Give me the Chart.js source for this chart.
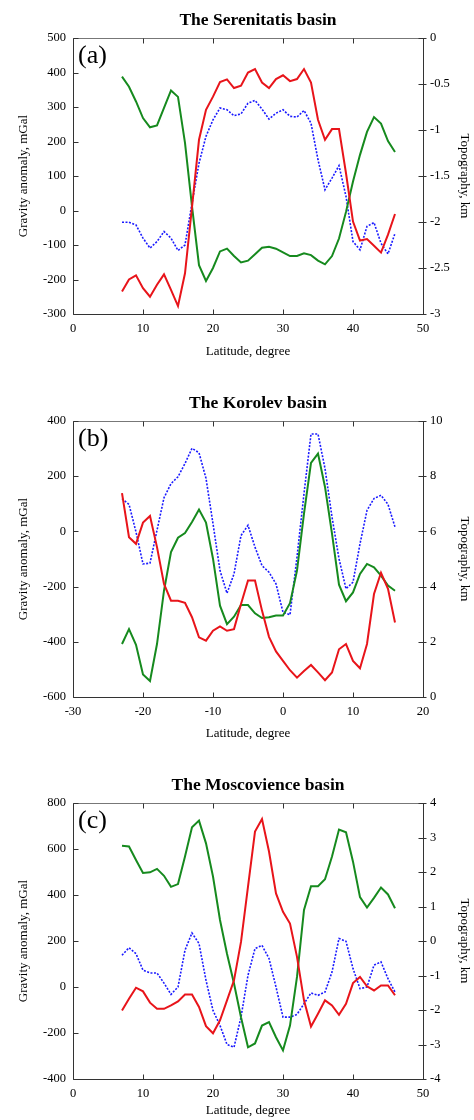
<!DOCTYPE html>
<html><head><meta charset="utf-8">
<script src="https://cdn.jsdelivr.net/npm/chart.js@4.4.0/dist/chart.umd.min.js"></script>
<style>
html,body{margin:0;padding:0;background:#fff;overflow:hidden;width:474px;height:1120px;}
.box{position:absolute;left:0;width:474px;height:382px;}
</style></head><body>
<div class="box" style="top:0px"><canvas id="c1"></canvas></div>
<div class="box" style="top:383px"><canvas id="c2"></canvas></div>
<div class="box" style="top:765px"><canvas id="c3"></canvas></div>
<script>
// ---------- Panel (a): Serenitatis ----------
const latA = [7,8,9,10,11,12,13,14,15,16,17,18,19,20,21,22,23,24,25,26,27,28,29,30,31,32,33,34,35,36,37,38,39,40,41,42,43,44,45,46];
const redA = [-235,-200,-188,-225,-250,-215,-185,-230,-277,-182,10,205,292,330,372,380,355,362,400,410,371,355,381,392,375,381,410,371,263,205,236,236,108,-32,-87,-83,-102,-122,-70,-10];
const blueA = [-34,-34,-42,-80,-109,-90,-61,-80,-116,-100,21,137,215,263,297,292,275,280,311,319,294,265,282,292,273,271,290,253,147,60,94,130,41,-90,-114,-46,-35,-95,-126,-66];
const greenA = [-0.42,-0.53,-0.69,-0.87,-0.97,-0.95,-0.76,-0.57,-0.64,-1.14,-1.83,-2.47,-2.64,-2.50,-2.32,-2.29,-2.37,-2.44,-2.42,-2.35,-2.28,-2.27,-2.29,-2.33,-2.37,-2.37,-2.34,-2.36,-2.42,-2.46,-2.37,-2.18,-1.89,-1.56,-1.27,-1.02,-0.86,-0.93,-1.12,-1.24];

// ---------- Panel (b): Korolev ----------
const latB = [-23,-22,-21,-20,-19,-18,-17,-16,-15,-14,-13,-12,-11,-10,-9,-8,-7,-6,-5,-4,-3,-2,-1,0,1,2,3,4,5,6,7,8,9,10,11,12,13,14,15,16];
const redB = [139,-21,-45,32,56,-57,-190,-251,-251,-259,-311,-384,-396,-360,-344,-360,-354,-263,-178,-178,-287,-382,-435,-469,-503,-530,-506,-484,-511,-539,-511,-427,-408,-469,-496,-408,-227,-150,-208,-330];
const blueB = [119,98,-2,-118,-115,4,122,173,198,246,301,285,192,28,-142,-224,-154,-15,22,-57,-124,-148,-190,-293,-302,-93,137,353,353,228,52,-99,-208,-184,-45,76,119,131,98,16];
const greenB = [1.92,2.46,1.89,0.82,0.58,1.92,3.85,5.25,5.77,5.94,6.34,6.79,6.32,5.01,3.31,2.64,2.91,3.33,3.33,3.03,2.86,2.89,2.95,2.95,3.40,4.58,6.64,8.48,8.82,7.61,5.92,4.07,3.47,3.79,4.46,4.82,4.70,4.40,4.04,3.85];

// ---------- Panel (c): Moscoviense ----------
const latC = [7,8,9,10,11,12,13,14,15,16,17,18,19,20,21,22,23,24,25,26,27,28,29,30,31,32,33,34,35,36,37,38,39,40,41,42,43,44,45,46];
const redC = [-102,-51,-3,-19,-68,-95,-95,-80,-63,-33,-33,-87,-170,-201,-145,-58,29,196,436,676,730,589,407,327,276,131,-58,-172,-116,-58,-80,-121,-73,17,44,3,-15,7,7,-36];
const blueC = [138,171,145,73,61,61,17,-32,0,160,235,189,29,-102,-167,-250,-262,-131,51,167,181,124,0,-131,-131,-119,-73,-26,-36,-22,65,211,199,80,-7,0,95,109,36,-22];
const greenC = [2.76,2.74,2.35,1.97,1.99,2.09,1.89,1.57,1.65,2.45,3.30,3.49,2.83,1.87,0.61,-0.37,-1.23,-2.21,-3.08,-2.97,-2.45,-2.35,-2.79,-3.17,-2.45,-1.04,0.90,1.59,1.59,1.79,2.45,3.23,3.15,2.30,1.27,0.97,1.25,1.55,1.35,0.95];

const titles = ['The Serenitatis basin','The Korolev basin','The Moscovience basin'];
const panelLabels = ['(a)','(b)','(c)'];
const xTitle = 'Latitude, degree';
const yLeftTitle = 'Gravity anomaly, mGal';
const yRightTitle = 'Topography, km';

const SERIF = '"Liberation Serif", "Times New Roman", serif';
const RED = '#e8141a', BLUE = '#1a1aff', GREEN = '#168a1e';

const frameTicks = {
  id: 'frameTicks',
  afterDraw(chart, args, opts) {
    const {ctx, chartArea: a, scales} = chart;
    const L = Math.round(a.left) + 0.5, R = Math.round(a.right) + 0.5;
    const T = Math.round(a.top) + 0.5, B = Math.round(a.bottom) + 0.5;
    ctx.save();
    ctx.lineWidth = 1;
    // top border (lighter)
    ctx.strokeStyle = '#777';
    ctx.beginPath();
    ctx.moveTo(L, T); ctx.lineTo(R, T);
    ctx.stroke();
    ctx.strokeStyle = '#333';
    ctx.beginPath();
    ctx.moveTo(L, T); ctx.lineTo(L, B); ctx.lineTo(R, B); ctx.lineTo(R, T);
    scales.x.ticks.forEach(t => {
      const p = Math.round(scales.x.getPixelForValue(t.value)) + 0.5;
      ctx.moveTo(p, B); ctx.lineTo(p, B - 5);
      ctx.moveTo(p, T); ctx.lineTo(p, T + 5);
    });
    scales.y.ticks.forEach(t => {
      const p = Math.round(scales.y.getPixelForValue(t.value)) + 0.5;
      ctx.moveTo(L, p); ctx.lineTo(L + 5, p);
    });
    scales.y2.ticks.forEach(t => {
      const p = Math.round(scales.y2.getPixelForValue(t.value)) + 0.5;
      ctx.moveTo(R - 5, p); ctx.lineTo(R + 3, p);
    });
    ctx.stroke();
    ctx.fillStyle = '#000';
    ctx.font = '26px ' + SERIF;
    ctx.textBaseline = 'alphabetic';
    ctx.textAlign = 'left';
    ctx.fillText(opts.label, a.left + 5, a.top + 25);
    ctx.font = 'bold 17.5px ' + SERIF;
    ctx.textAlign = 'center';
    ctx.fillText(opts.title, 258, 24.5);
    ctx.restore();
  }
};

const fmt = v => String(Math.round(v * 100) / 100);

function makeChart(id, idx, lat, red, blue, green, xr, yl, yr, xTitlePad) {
  const pts = (arr) => lat.map((x, i) => ({x: x, y: arr[i]}));
  new Chart(document.getElementById(id), {
    type: 'line',
    data: {
      datasets: [
        {data: pts(red), yAxisID: 'y', borderColor: RED, borderWidth: 2, pointRadius: 0, tension: 0, fill: false},
        {data: pts(green), yAxisID: 'y2', borderColor: GREEN, borderWidth: 2, pointRadius: 0, tension: 0, fill: false},
        {data: pts(blue), yAxisID: 'y', borderColor: BLUE, borderWidth: 1.6, borderDash: [2, 1.5], pointRadius: 0, tension: 0, fill: false}
      ]
    },
    options: {
      responsive: true,
      maintainAspectRatio: false,
      animation: false,
      layout: {padding: {top: 38, left: 0, right: 0, bottom: 0}},
      plugins: {
        legend: {display: false},
        tooltip: {enabled: false},
        title: {display: false},
        frameTicks: {label: panelLabels[idx], title: titles[idx]}
      },
      scales: {
        x: {
          type: 'linear', position: 'bottom', min: xr[0], max: xr[1],
          ticks: {stepSize: 10, color: '#000', font: {family: SERIF, size: 12.5}, padding: 7, maxRotation: 0, callback: fmt},
          grid: {display: false, drawTicks: false}, border: {display: false},
          title: {display: true, text: xTitle, color: '#000', font: {family: SERIF, size: 13}, padding: {top: 0, bottom: xTitlePad}},
          afterFit: s => { s.height = 68; }
        },
        y: {
          type: 'linear', position: 'left', min: yl[0], max: yl[1],
          ticks: {stepSize: yl[2], color: '#000', font: {family: SERIF, size: 12.5}, padding: 7, callback: fmt},
          grid: {display: false, drawTicks: false}, border: {display: false},
          title: {display: true, text: yLeftTitle, color: '#000', font: {family: SERIF, size: 13}, padding: {top: 16, bottom: 0}},
          afterFit: s => { s.width = 73; }
        },
        y2: {
          type: 'linear', position: 'right', min: yr[0], max: yr[1],
          ticks: {stepSize: yr[2], color: '#000', font: {family: SERIF, size: 12.5}, padding: 7, callback: fmt},
          grid: {display: false, drawTicks: false}, border: {display: false},
          title: {display: true, text: yRightTitle, color: '#000', font: {family: SERIF, size: 13}, padding: {top: 2, bottom: 0}},
          afterFit: s => { s.width = 51; }
        }
      }
    },
    plugins: [frameTicks]
  });
}

makeChart('c1', 0, latA, redA, blueA, greenA, [0, 50], [-300, 500, 100], [-3, 0, 0.5], 23);
makeChart('c2', 1, latB, redB, blueB, greenB, [-30, 20], [-600, 400, 200], [0, 10, 2], 24);
makeChart('c3', 2, latC, redC, blueC, greenC, [0, 50], [-400, 800, 200], [-4, 4, 1], 29);
</script>
</body></html>
